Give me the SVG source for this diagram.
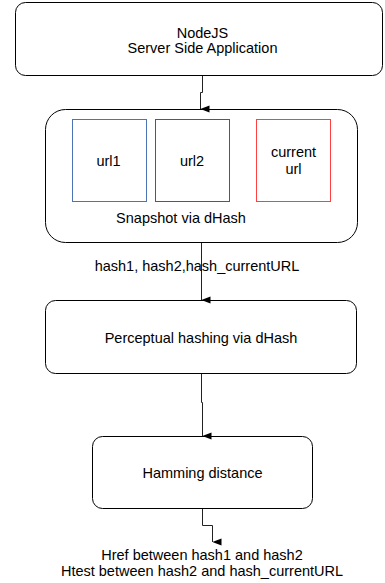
<svg xmlns="http://www.w3.org/2000/svg" width="385" height="583" viewBox="0 0 385 583">
<style>
.box{fill:#fff;stroke:#000;stroke-width:1}
.t{font-family:"Liberation Sans",Arial,sans-serif;font-size:14.5px;fill:#000;text-anchor:middle}
.c{fill:none;stroke:#222;stroke-width:1}
</style>
<defs>
<marker id="ah" markerWidth="8" markerHeight="9" refX="4" refY="9" orient="auto" markerUnits="userSpaceOnUse" viewBox="0 0 8 9">
<path d="M0.5,0 L7.5,0 L4,9 Z" fill="#000"/>
</marker>
</defs>
<rect width="385" height="583" fill="#fff"/>
<g id="node-nodejs">
<rect class="box" x="15.5" y="2.5" width="367" height="73" rx="10"/>
<text class="t" x="202.5" y="37.5">NodeJS</text>
<text class="t" x="202.5" y="53">Server Side Application</text>
</g>
<g id="node-snapshot">
<rect class="box" x="45.5" y="109.5" width="312" height="133" rx="20"/>
<text class="t" x="181" y="222.5">Snapshot via dHash</text>
</g>
<g id="node-url1">
<rect x="72.5" y="119.5" width="74" height="82" fill="none" stroke="#4a74b4" stroke-width="1"/>
<text class="t" x="108.5" y="166">url1</text>
</g>
<g id="node-url2">
<rect x="155.5" y="119.5" width="74" height="82" fill="none" stroke="#3a5a9a" stroke-width="1"/>
<text class="t" x="192" y="166">url2</text>
</g>
<g id="node-current">
<rect x="256.5" y="119.5" width="74" height="82" fill="none" stroke="#ff4040" stroke-width="1"/>
<text class="t" x="293.5" y="157">current</text>
<text class="t" x="293.5" y="174">url</text>
</g>
<g id="node-perceptual">
<rect class="box" x="45.5" y="300.5" width="311" height="73" rx="10"/>
<text class="t" x="201" y="343">Perceptual hashing via dHash</text>
</g>
<g id="node-hamming">
<rect class="box" x="92.5" y="436.5" width="220" height="72" rx="10"/>
<text class="t" x="202.5" y="477.5">Hamming distance</text>
</g>
<g id="connectors">
<path class="c" d="M202.5,76 L202.5,92.5 L200.5,92.5 L200.5,109" marker-end="url(#ah)"/>
<path class="c" d="M201.5,243 L201.5,300" marker-end="url(#ah)"/>
<path class="c" d="M201.5,374 L201.5,402.5 L202.5,402.5 L202.5,436" marker-end="url(#ah)"/>
<path class="c" d="M202.5,509 L202.5,525.5 L212.5,525.5 L212.5,542" marker-end="url(#ah)"/>
<text class="t" x="197" y="271">hash1, hash2,hash_currentURL</text>
<text class="t" x="202" y="560">Href between hash1 and hash2</text>
<text class="t" x="202" y="576">Htest between hash2 and hash_currentURL</text>
</g>
</svg>
